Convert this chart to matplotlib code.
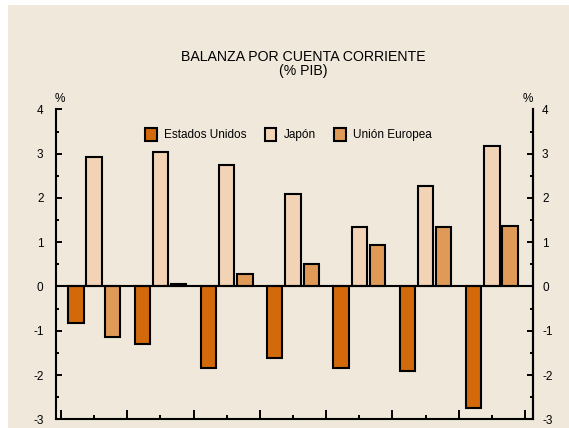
import numpy as np
import matplotlib
matplotlib.use("Agg")
import matplotlib.pyplot as plt
from matplotlib.patches import Rectangle
from matplotlib.ticker import MultipleLocator

plt.rcParams['font.family'] = ['Liberation Sans', 'DejaVu Sans']
plt.rcParams['axes.unicode_minus'] = False

# Data (% PIB)
series = ["Estados Unidos", "Japón", "Unión Europea"]
estados_unidos = [-0.82, -1.31, -1.85, -1.61, -1.85, -1.91, -2.75]
japon = [2.92, 3.04, 2.74, 2.08, 1.35, 2.26, 3.17]
union_europea = [-1.13, 0.05, 0.28, 0.51, 0.93, 1.35, 1.36]
colors = ["#D2690A", "#F2D3B6", "#E09A58"]
y_ticks = [-3, -2, -1, 0, 1, 2, 3, 4]

bg = "#EFE8DB"
W, H = 569, 428

fig = plt.figure(figsize=(W / 100, H / 100), dpi=100, facecolor="white")
# beige panel, white strip on the left and top
fig.patches.append(Rectangle((8 / W, 0), 1 - 8 / W, 1 - 5 / H,
                             transform=fig.transFigure, facecolor=bg,
                             edgecolor="none", zorder=-10))

ax = fig.add_axes([56 / W, 8.7 / H, 477 / W, 309.9 / H])
ax.set_facecolor("none")

x = np.arange(len(japon)) + 0.5
offsets = [-0.275, 0.0, 0.275]
width = 0.232
handles = []
for vals, off, col, name in zip([estados_unidos, japon, union_europea],
                                offsets, colors, series):
    b = ax.bar(x + off, vals, width, color=col, edgecolor="black",
               linewidth=1.5, label=name, zorder=3)
    handles.append(b)

ax.axhline(0, color="black", lw=1.5, zorder=4)

ax.set_xlim(-0.0754, 7.121)
ax.set_ylim(-3, 4)

ax.spines["top"].set_visible(False)
for s in ["left", "right", "bottom"]:
    ax.spines[s].set_linewidth(1.5)

ax.set_yticks(y_ticks)
ax.yaxis.set_minor_locator(MultipleLocator(0.5))
ax.xaxis.set_major_locator(MultipleLocator(1))
ax.xaxis.set_minor_locator(MultipleLocator(0.5))
ax.tick_params(axis="y", which="major", direction="in", length=4, width=1.4,
               labelsize=8.5, pad=9, left=True, right=False)
ax.tick_params(axis="y", which="minor", direction="in", length=2.2, width=1.4,
               left=True, right=False)
ax.tick_params(axis="x", which="major", direction="in", length=6.5, width=1.4,
               labelbottom=False)
ax.tick_params(axis="x", which="minor", direction="in", length=3, width=1.4)
ax.yaxis.get_major_ticks()[-1].tick1line.set_visible(False)

ax2 = ax.twinx()
ax2.set_ylim(ax.get_ylim())
ax2.set_yticks(y_ticks)
ax2.yaxis.set_minor_locator(MultipleLocator(0.5))
for s in ["top", "left", "bottom"]:
    ax2.spines[s].set_visible(False)
ax2.spines["right"].set_linewidth(1.5)
ax2.tick_params(axis="y", which="major", direction="in", length=4, width=1.4,
                labelsize=8.5, pad=6.5)
ax2.tick_params(axis="y", which="minor", direction="in", length=2.2, width=1.4)
ax2.yaxis.get_major_ticks()[-1].tick2line.set_visible(False)

# % markers over both axes
ax.text(0.0084, 1.035, "%", transform=ax.transAxes, ha="center", va="center",
        fontsize=8.5)
ax.text(0.9895, 1.035, "%", transform=ax.transAxes, ha="center", va="center",
        fontsize=8.5)

# title
fig.text(303 / W, 1 - 61 / H, "BALANZA POR CUENTA CORRIENTE", ha="center",
         va="baseline", fontsize=10.2)
fig.text(303 / W, 1 - 75.5 / H, "(% PIB)", ha="center", va="baseline",
         fontsize=10.2)

ax.legend(handles=handles, labels=series, ncol=3, loc="center",
          bbox_to_anchor=(288.5 / W, 1 - 134.5 / H),
          bbox_transform=fig.transFigure, frameon=False, fontsize=8.5,
          handlelength=0.95, handleheight=1.3, handletextpad=0.6,
          columnspacing=1.6, borderpad=0)

fig.savefig("out.png", dpi=100, facecolor=fig.get_facecolor())
